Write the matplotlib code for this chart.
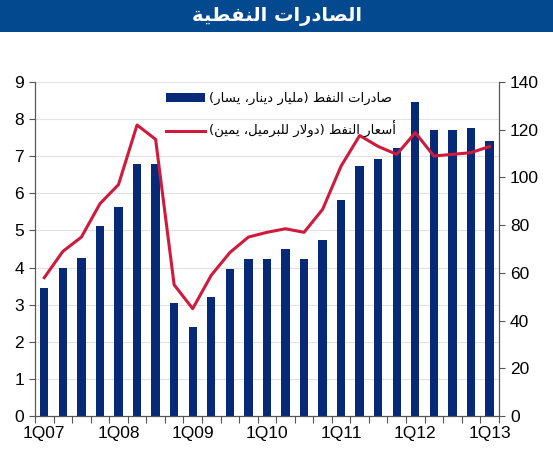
import numpy as np
import matplotlib.pyplot as plt
from matplotlib.patches import Rectangle

# الصادرات النفطية - بيانات ربعية
quarters = ['1Q07', '2Q07', '3Q07', '4Q07', '1Q08', '2Q08', '3Q08', '4Q08',
            '1Q09', '2Q09', '3Q09', '4Q09', '1Q10', '2Q10', '3Q10', '4Q10',
            '1Q11', '2Q11', '3Q11', '4Q11', '1Q12', '2Q12', '3Q12', '4Q12',
            '1Q13']
exports = [3.45, 3.99, 4.27, 5.12, 5.63, 6.78, 6.78, 3.04, 2.41, 3.20, 3.97,
           4.24, 4.24, 4.51, 4.24, 4.73, 5.82, 6.74, 6.93, 7.22, 8.46, 7.70,
           7.70, 7.77, 7.41]
oil_price = [58, 69, 75, 89, 97, 122, 116, 55, 45, 59, 68.5, 75, 77, 78.5, 77,
             86.6, 104.8, 117.6, 113, 109.7, 118.8, 109, 109.7, 110.4, 113]
tick_labels = ['1Q07', '1Q08', '1Q09', '1Q10', '1Q11', '1Q12', '1Q13']

title = 'الصادرات النفطية'
label_exports = 'صادرات النفط (مليار دينار، يسار)'
label_price = 'أسعار النفط (دولار للبرميل، يمين)'

# تشكيل الحروف العربية يدويا (matplotlib لا يدعم التشكيل)
# (isolated, final, initial, medial)
FORMS = {
    'ا': (0xFE8D, 0xFE8E, None, None), 'أ': (0xFE83, 0xFE84, None, None),
    'ب': (0xFE8F, 0xFE90, 0xFE91, 0xFE92), 'ة': (0xFE93, 0xFE94, None, None),
    'ت': (0xFE95, 0xFE96, 0xFE97, 0xFE98), 'د': (0xFEA9, 0xFEAA, None, None),
    'ر': (0xFEAD, 0xFEAE, None, None), 'س': (0xFEB1, 0xFEB2, 0xFEB3, 0xFEB4),
    'ص': (0xFEB9, 0xFEBA, 0xFEBB, 0xFEBC), 'ط': (0xFEC1, 0xFEC2, 0xFEC3, 0xFEC4),
    'ع': (0xFEC9, 0xFECA, 0xFECB, 0xFECC), 'ف': (0xFED1, 0xFED2, 0xFED3, 0xFED4),
    'ل': (0xFEDD, 0xFEDE, 0xFEDF, 0xFEE0), 'م': (0xFEE1, 0xFEE2, 0xFEE3, 0xFEE4),
    'ن': (0xFEE5, 0xFEE6, 0xFEE7, 0xFEE8), 'و': (0xFEED, 0xFEEE, None, None),
    'ي': (0xFEF1, 0xFEF2, 0xFEF3, 0xFEF4),
    'ﻻ': (0xFEFB, 0xFEFC, None, None),
}


def shape(text):
    text = text.replace('لا', 'ﻻ')
    out = []
    for i, ch in enumerate(text):
        if ch not in FORMS:
            out.append(ch)
            continue
        prev = text[i - 1] if i > 0 else ''
        nxt = text[i + 1] if i + 1 < len(text) else ''
        joins_prev = prev in FORMS and FORMS[prev][2] is not None
        joins_next = FORMS[ch][2] is not None and nxt in FORMS
        f = FORMS[ch]
        if joins_prev and joins_next:
            code = f[3]
        elif joins_prev:
            code = f[1]
        elif joins_next:
            code = f[2]
        else:
            code = f[0]
        out.append(chr(code))
    vis = ''.join(reversed(out))
    return vis.translate(str.maketrans('()', ')('))


plt.rcParams['font.family'] = ['Liberation Sans', 'DejaVu Sans']

fig = plt.figure(figsize=(5.53, 4.5), dpi=100)
fig.patches.append(Rectangle((0, 0.928), 1, 0.072, transform=fig.transFigure,
                             facecolor='#03498f', edgecolor='none'))
fig.text(0.5, 0.964, shape(title), color='white', fontsize=14,
         fontweight='bold', ha='center', va='center', family='DejaVu Sans')

ax = fig.add_axes([0.0633, 0.0756, 0.8387, 0.742])
xs = np.arange(len(quarters))
bars = ax.bar(xs, exports, width=0.45, color='#062a78', zorder=2)
ax.set_ylim(0, 9)
ax.set_xlim(-0.5, len(quarters) - 0.5)
ax.set_yticks(range(0, 10))
ax.grid(axis='y', color='#e3e3e3', linewidth=0.8, zorder=0)
ax.set_axisbelow(True)

ax2 = ax.twinx()
line, = ax2.plot(xs, oil_price, color='#d01a3c', linewidth=2.2)
ax2.set_ylim(0, 140)
ax2.set_yticks(range(0, 141, 20))

# محور x: علامات بين الأعمدة، وتسميات كل أربعة أرباع
ax.set_xticks(np.arange(-0.5, len(quarters), 1))
ax.set_xticklabels([])
ax.set_xticks(xs[::4], minor=True)
ax.set_xticklabels(tick_labels, minor=True)
ax.tick_params(axis='x', which='major', length=5, direction='out', color='#555555')
ax.tick_params(axis='x', which='minor', length=0, pad=7, labelsize=12.5)
ax.tick_params(axis='y', length=4, color='#555555', labelsize=12.5, pad=4)
ax2.tick_params(axis='y', length=4, color='#555555', labelsize=12.5, pad=4)

for a in (ax, ax2):
    a.spines['top'].set_visible(False)
    a.spines['left'].set_color('#555555')
    a.spines['right'].set_color('#555555')
    a.spines['bottom'].set_color('#555555')

ax2.legend([bars, line], [shape(label_exports), shape(label_price)],
           loc='upper center', bbox_to_anchor=(0.53, 1.005), frameon=False,
           prop={'family': 'DejaVu Sans', 'size': 9.5}, labelspacing=1.2,
           handlelength=3.0, handletextpad=0.3)

fig.savefig('out.png', dpi=100)
